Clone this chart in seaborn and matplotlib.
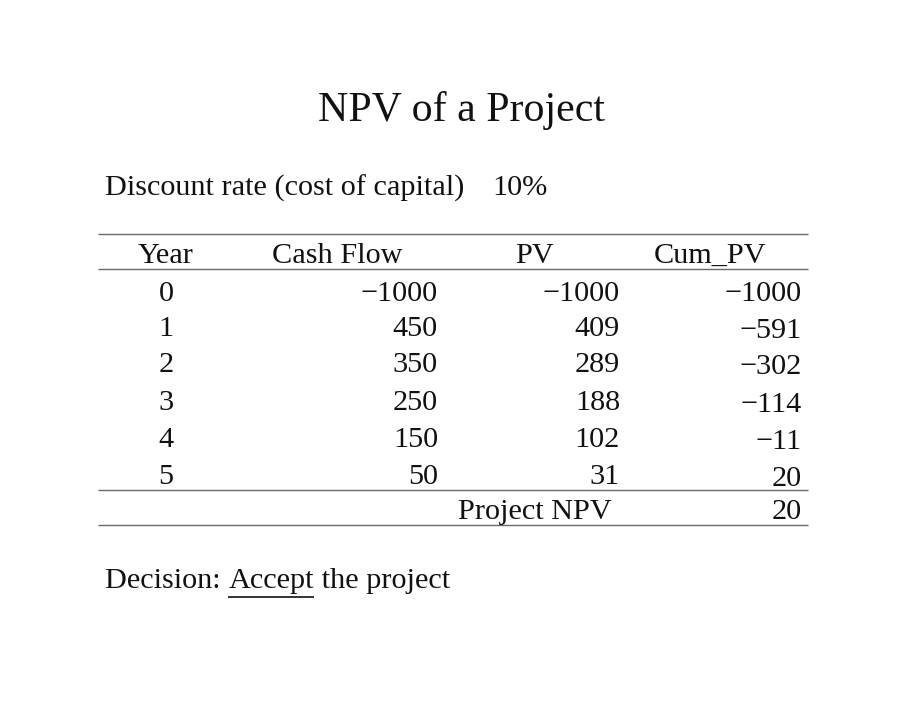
import matplotlib
matplotlib.use("Agg")
import matplotlib.pyplot as plt
import seaborn as sns

sns.set_theme(style="white")
plt.rcParams['font.family'] = ['Liberation Serif', 'DejaVu Serif']

title = "NPV of a Project"
rate_label = "Discount rate (cost of capital)"
rate_value = "10%"
headers = ["Year", "Cash Flow", "PV", "Cum_PV"]
years = [0, 1, 2, 3, 4, 5]
cash_flow = [-1000, 450, 350, 250, 150, 50]
pv = [-1000, 409, 289, 188, 102, 31]
cum_pv = [-1000, -591, -302, -114, -11, 20]
npv_label = "Project NPV"
npv_value = 20
decision_prefix = "Decision: "
decision_word = "Accept"
decision_suffix = " the project"

def fmt(v):
    return ("\u2212" + str(abs(v))) if v < 0 else str(v)

W, H = 920, 711
fig = plt.figure(figsize=(9.2, 7.11), dpi=100)
ax = fig.add_axes([0, 0, 1, 1])
ax.set_xlim(0, W)
ax.set_ylim(H, 0)
ax.axis("off")

fs = 21.8
col = "#111111"
ax.text(462, 111, title, fontsize=30.2, ha="center", va="center", color=col)
ax.text(105, 188, rate_label, fontsize=fs, ha="left", va="center", color=col)
ax.text(492, 188, rate_value, fontsize=fs, ha="left", va="center", color=col)

# table lines
lc = "#6a6a6a"
for y in [234, 269, 490, 525]:
    ax.hlines(y, 98, 808, color=lc, lw=1.0)

header_x = [166, 337, 535, 710]
for hx, h in zip(header_x, headers):
    ax.text(hx, 256, h, fontsize=fs, ha="center", va="center", color=col)

row_y = [294, 329, 365, 403, 440, 477]
for i, y in enumerate(row_y):
    ax.text(166, y, str(years[i]), fontsize=fs, ha="center", va="center", color=col)
    ax.text(438, y, fmt(cash_flow[i]), fontsize=fs, ha="right", va="center", color=col)
    ax.text(620, y, fmt(pv[i]), fontsize=fs, ha="right", va="center", color=col)
    ax.text(802, y + (2 if i > 0 else 0), fmt(cum_pv[i]), fontsize=fs, ha="right", va="center", color=col)

ax.text(535, 512, npv_label, fontsize=fs, ha="center", va="center", color=col)
ax.text(802, 512, fmt(npv_value), fontsize=fs, ha="right", va="center", color=col)

# decision line
t1 = ax.text(105, 581, decision_prefix, fontsize=fs, ha="left", va="center", color=col)
fig.canvas.draw()
r = fig.canvas.get_renderer()
bb1 = t1.get_window_extent(renderer=r)
inv = ax.transData.inverted()
x1 = inv.transform((bb1.x1, 0))[0]
t2 = ax.text(x1, 581, decision_word, fontsize=fs, ha="left", va="center", color=col)
bb2 = t2.get_window_extent(renderer=r)
x2 = inv.transform((bb2.x1, 0))[0]
ax.hlines(597, x1, x2, color=col, lw=1.2)
ax.text(x2, 581, decision_suffix, fontsize=fs, ha="left", va="center", color=col)

fig.savefig("out.png", dpi=100, facecolor="white")
